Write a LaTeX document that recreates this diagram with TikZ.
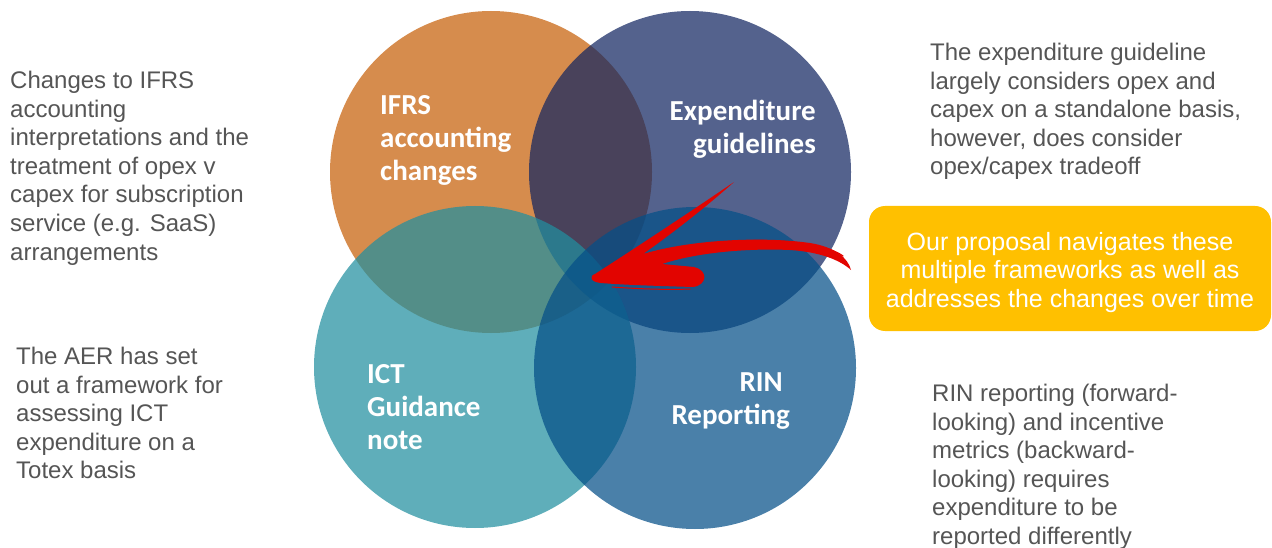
\documentclass[tikz,border=0pt]{standalone}
\usepackage{fontspec}
\setmainfont{Liberation Sans}
\newfontfamily\labelfont{Carlito}

% base colours of the four sets (shown at fill opacity 0.72)
\definecolor{cIFRS}{RGB}{198,95,9}
\definecolor{cExp}{RGB}{18,38,97}
\definecolor{cICT}{RGB}{33,143,159}
\definecolor{cRIN}{RGB}{4,79,136}
\definecolor{brushred}{RGB}{226,4,0}
\definecolor{propyellow}{RGB}{255,192,0}
\definecolor{notegray}{RGB}{85,85,85}

\tikzset{
  venn/.style={circle, draw=none, minimum size=322pt, inner sep=0pt, fill opacity=0.72},
  setlabel/.style={inner sep=0pt, text=white,
    font=\labelfont\bfseries\fontsize{29pt}{33pt}\selectfont},
  note/.style={inner sep=0pt, anchor=north west, align=left, text=notegray,
    font=\fontsize{24pt}{28.6pt}\selectfont},
  propbox/.style={rectangle, rounded corners=16pt, fill=propyellow, draw=none,
    minimum width=402pt, minimum height=125pt, inner sep=0pt},
  proptext/.style={inner sep=0pt, anchor=north, align=center, text=white,
    font=\fontsize{25pt}{28.5pt}\selectfont},
}

\begin{document}
\begin{tikzpicture}[x=1pt, y=-1pt]
\useasboundingbox (0,0) rectangle (1272,548);

% the four overlapping sets
\node[venn, fill=cIFRS] (ifrs) at (491,172) {};
\node[venn, fill=cExp]  (exp)  at (690,172) {};
\node[venn, fill=cICT]  (ict)  at (475,367) {};
\node[venn, fill=cRIN]  (rin)  at (695,368) {};

% set labels
\node[setlabel, anchor=north west, align=left] (ifrslbl) at (380,95)
  {IFRS\\accounting\\changes};
\node[setlabel, anchor=north east, align=right] (explbl) at (816,100)
  {Expenditure\\guidelines};
\node[setlabel, anchor=north west, align=left] (ictlbl) at (367,364)
  {ICT\\Guidance\\note};
\node[setlabel, anchor=north east, align=right] (rinlbl) at (790,372)
  {RIN\hspace*{7pt}\\Reporting};

% brush-stroke arrow pointing into the overlap
\fill[brushred]
  (595,274)
  .. controls (640,245) and (690,212) .. (734,182)
  .. controls (705,208) and (670,235) .. (643,254)
  .. controls (690,240) and (760,236) .. (810,243)
  .. controls (835,247) and (848,258) .. (851,270)
  .. controls (840,260) and (820,252) .. (790,250)
  .. controls (745,248) and (695,253) .. (662,264)
  -- (694,267)
  .. controls (708,270) and (708,285) .. (693,287)
  .. controls (660,286) and (625,285) .. (601,283)
  .. controls (590,282) and (589,276) .. (595,274) -- cycle;
\draw[brushred, line width=1.3pt, line cap=round]
  (705,244) .. controls (770,236) and (825,243) .. (843,256);
\draw[brushred, line width=1pt, line cap=round]
  (612,287) .. controls (640,289) and (670,290) .. (690,289);

% proposal call-out
\node[propbox] (propbox) at (1070,268.5) {};
\node[proptext] (prop) at (1070,231.7)
  {Our proposal navigates these\\multiple frameworks as well as\\addresses the changes over time};

% side notes
\node[note] (ifrsnote) at (10,71)
  {Changes to IFRS\\accounting\\interpretations and the\\treatment of opex v\\capex for subscription\\service (e.g. SaaS)\\arrangements};
\node[note] (ictnote) at (16,347)
  {The AER has set\\out a framework for\\assessing ICT\\expenditure on a\\Totex basis};
\node[note] (expnote) at (930,43)
  {The expenditure guideline\\largely considers opex and\\capex on a standalone basis,\\however, does consider\\opex/capex tradeoff};
\node[note] (rinnote) at (932,384)
  {RIN reporting (forward-\\looking) and incentive\\metrics (backward-\\looking) requires\\expenditure to be\\reported differently};
\end{tikzpicture}
\end{document}
